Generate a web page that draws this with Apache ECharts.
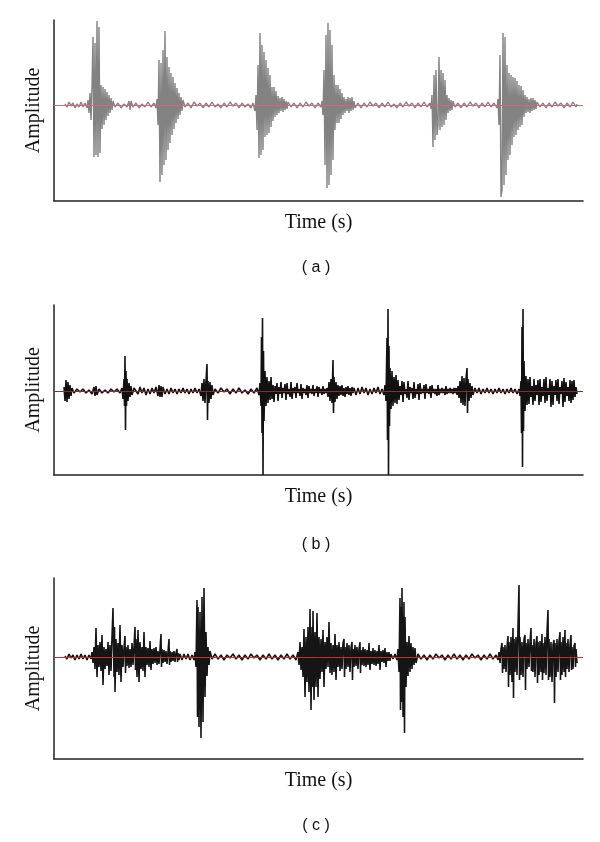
<!DOCTYPE html>
<html><head><meta charset="utf-8">
<script src="https://cdn.jsdelivr.net/npm/echarts@6/dist/echarts.min.js"></script>
<style>html,body{margin:0;padding:0;background:#fff}#c{width:600px;height:842px}</style>
</head><body><div id="c"></div>
<script>
// Time offsets (arbitrary units, 0..529 span of the axis) and amplitude readings (relative to baseline)
const waveA = [[11,1],[13,-2],[15,3],[17,-1],[19,2],[21,-3],[23,1],[25,-2],[27,3],[29,-2],[31,2],[33,-3],
[34,5],[35,-8],[36,12],[37,-15],[38,18],[39,68],[40,-52],[41,62],[42,-50],[43,84],[44,-52],[45,78],[46,-48],[47,20],[48,-24],[49,18],[50,-20],[51,16],[52,-15],[53,13],[54,-11],[55,10],[56,-8],[57,7],[58,-5],[59,4],
[61,-2],[64,2],[67,-3],[70,1],[73,-2],[75,4],[76,-5],[77,4],[79,-2],[82,2],[85,-3],[88,1],[91,-2],[94,3],[97,-2],[100,2],[102,-3],
[103,6],[104,-20],[105,45],[106,-77],[107,42],[108,-70],[109,55],[110,-60],[111,74],[112,-55],[113,48],[114,-45],[115,38],[116,-38],[117,32],[118,-30],[119,28],[120,-24],[121,22],[122,-18],[123,17],[124,-14],[125,12],[126,-10],[127,8],[128,-6],[129,5],
[131,-2],[134,2],[137,-3],[140,3],[143,-1],[146,2],[149,-3],[152,2],[155,-2],[158,3],[161,-2],[164,1],[167,-3],[170,2],[173,-2],[176,3],[179,-1],[182,2],[185,-3],[188,2],[191,-2],[194,1],[197,-3],[199,2],
[201,-6],[202,10],[203,-25],[204,40],[205,-53],[206,72],[207,-50],[208,60],[209,-45],[210,53],[211,-32],[212,45],[213,-30],[214,37],[215,-28],[216,30],[217,-22],[218,18],[219,-16],[220,18],[221,-12],[222,14],[223,-10],[224,9],[225,-8],[226,7],[227,-6],[228,8],[229,-7],[230,6],[231,-5],[232,4],[233,-4],[234,3],
[237,-2],[240,2],[243,-3],[246,2],[249,-2],[252,3],[255,-1],[258,2],[261,-3],[264,2],[267,-2],
[268,4],[269,-10],[270,35],[271,-60],[272,70],[273,-83],[274,82],[275,-80],[276,75],[277,-70],[278,60],[279,-55],[280,30],[281,-25],[282,20],[283,-18],[284,20],[285,-18],[286,16],[287,-14],[288,12],[289,-10],[290,8],[291,-8],[292,6],[293,-6],[294,8],[295,-8],[296,7],[297,-6],[298,8],[299,-5],[300,4],[301,-3],
[304,2],[307,-3],[310,2],[313,-2],[316,3],[319,-1],[322,2],[325,-3],[328,2],[331,-2],[334,3],[337,-2],[340,1],[343,-3],[346,2],[349,-2],[352,3],[355,-1],[358,2],[361,-3],[364,2],[367,-2],[370,3],[373,-2],[376,2],
[377,-4],[378,10],[379,-42],[380,30],[381,-35],[382,35],[383,-30],[384,-20],[385,48],[386,-25],[387,35],[388,-22],[389,32],[390,-20],[391,25],[392,-15],[393,10],[394,-8],[395,7],[396,-6],[397,5],[398,-5],[399,4],
[401,-2],[404,2],[407,-3],[410,2],[413,-2],[416,3],[419,-1],[422,2],[425,-3],[428,2],[431,-2],[434,3],[437,-2],[440,2],[443,-3],
[444,6],[445,-20],[446,50],[447,-92],[448,-85],[449,72],[450,-80],[451,68],[452,-70],[453,40],[454,-55],[455,32],[456,-50],[457,30],[458,-40],[459,28],[460,-32],[461,27],[462,-30],[463,24],[464,-25],[465,20],[466,-22],[467,19],[468,-20],[469,15],[470,-12],[471,10],[472,-8],[473,8],[474,-7],[475,6],[476,-8],[477,7],[478,-6],[479,7],[480,-5],[481,5],[482,-4],[483,3],
[486,-2],[489,2],[492,-3],[495,2],[498,-2],[501,3],[504,-1],[507,2],[510,-3],[513,2],[516,-2],[519,3],[522,-2],[523,1]];

const waveB = [[10,4],[11,-10],[12,11],[13,-11],[14,9],[15,-8],[16,6],[17,-5],[18,3],
[20,-2],[23,2],[26,-1],[29,2],[32,-2],[35,1],[38,-3],[40,4],[41,-5],[42,5],[43,-4],[45,2],[48,-2],[51,1],[54,-2],[57,2],[60,-1],[63,2],[66,-2],[68,3],
[69,-8],[70,12],[70.5,-15],[71,35],[71.5,-39],[72,20],[72.5,-15],[73,12],[74,-10],[75,8],[76,-6],[77,5],[78,-4],[80,3],
[82,3],[84,-3],[86,4],[88,-2],[90,3],[92,-4],[94,2],[96,-3],[98,3],[100,-2],[102,4],[104,-5],[105,6],[106,-6],[107,5],[108,-6],[109,4],[111,-3],[113,2],[115,-3],[117,3],[119,-2],[121,2],[123,-3],[125,2],[127,-2],[129,3],[131,-2],[133,2],[135,-3],[137,2],[139,-2],[141,3],[143,-2],[145,2],
[147,-5],[148,8],[149,-10],[150,12],[151,-12],[152,10],[153,27],[153.5,-29],[154,10],[155,-12],[156,9],[157,-8],[158,6],[159,-4],
[161,2],[164,-2],[167,3],[170,-1],[173,2],[176,-3],[179,2],[182,-2],[185,3],[188,-2],[191,1],[194,-3],[197,2],[200,-2],[203,3],
[205,-4],[206,8],[207,-15],[207.5,54],[208,-42],[208.5,73],[209,-84],[209.5,40],[210,-30],[211,20],[212,-15],[213,14],
[214,-12],[215,10],[216,-9],[217,14],[218,-8],[219,6],[220,-11],[221,5],[222,-3],[223,8],[224,-10],[225,4],[226,-3],[227,9],[228,-7],[229,3],[230,-2],[231,7],[232,-9],[233,8],[234,-3],[235,2],[236,-6],[237,9],[238,-8],[239,3],[240,-2],[241,4],[242,-7],[243,8],[244,-2],[245,2],[246,-5],[247,7],[248,-8],[249,3],[250,-2],[251,2],[252,-4],[253,6],[254,-7],[255,5],[256,-2],[257,2],[258,-3],[259,6],[260,-5],[261,2],[262,-2],[263,5],[264,-6],[265,4],[266,-2],[267,2],[268,-4],[269,5],[270,-3],[271,2],[272,-2],[273,3],
[274,-6],[275,9],[276,-10],[277,12],[278,-12],[279,31],[279.5,-22],[280,14],[281,-11],[282,9],[283,-8],[284,6],[285,-5],
[286,5],[287,-4],[288,6],[289,-5],[290,3],[291,-6],[292,4],[293,-3],[294,5],[295,-4],[296,3],[297,-5],[298,4],[299,-2],[300,3],[302,-4],[304,3],[306,-3],[308,4],[310,-2],[312,3],[314,-4],[316,2],[318,-3],[320,3],[322,-2],[324,4],[326,-3],[328,2],[330,-4],
[331,6],[332,-10],[333,53],[333.5,-49],[334,82],[334.5,-84],[335,45],[335.5,-35],[336,23],[337,-18],[338,20],[339,-15],
[340,14],[341,-12],[342,16],[343,-13],[344,11],[345,-9],[346,5],[347,-4],[348,10],[349,-11],[350,9],[351,-3],[352,2],[353,-7],[354,10],[355,-9],[356,4],[357,-2],[358,3],[359,-8],[360,9],[361,-7],[362,2],[363,-3],[364,7],[365,-9],[366,8],[367,-3],[368,2],[369,-2],[370,6],[371,-8],[372,7],[373,-2],[374,2],[375,-3],[376,5],[377,-7],[378,6],[379,-2],[380,2],[381,-3],[382,2],[383,-5],[384,6],[385,-4],[386,2],[387,-2],[388,3],[389,-2],[390,2],[391,-4],[392,5],[393,-3],[394,2],[395,-2],[396,3],[397,-2],[398,2],[399,-3],[400,3],[401,-2],[402,3],[403,-4],
[404,5],[405,-7],[406,10],[407,-12],[408,15],[409,-14],[410,13],[411,-15],[412,12],[413,23],[413.5,-22],[414,12],[415,-10],[416,8],[417,-7],[418,5],[419,-4],
[421,3],[423,-2],[425,3],[427,-3],[429,2],[431,-2],[433,3],[435,-2],[437,2],[439,-3],[441,2],[443,-2],[445,3],[447,-2],[449,2],[451,-3],[453,2],[455,-2],[457,3],[459,-2],[461,2],[463,-3],[465,2],
[466,-5],[467,10],[467.5,-42],[468,64],[468.5,-76],[469,82],[469.5,-40],[470,30],[471,-20],[472,15],
[473,-14],[474,12],[475,-13],[476,14],[477,-6],[478,5],[479,-14],[480,12],[481,-10],[482,6],[483,-4],[484,11],[485,-14],[486,12],[487,-11],[488,4],[489,-5],[490,12],[491,-12],[492,14],[493,-10],[494,3],[495,-4],[496,12],[497,-16],[498,10],[499,-14],[500,5],[501,-4],[502,11],[503,-10],[504,12],[505,-13],[506,4],[507,-3],[508,10],[509,-16],[510,13],[511,-11],[512,9],[513,-5],[514,4],[515,-10],[516,11],[517,-12],[518,10],[519,-9],[520,11],[521,-6],[522,4],[523,-3]];

const waveC = [[11,1],[13,-2],[15,3],[17,-1],[19,2],[21,-3],[23,2],[25,-2],[27,3],[29,-2],[31,2],[33,-3],[35,2],[37,-2],
[38,5],[39,-6],[40,10],[41,-12],[42,29],[43,-20],[44,12],[45,-10],[46,15],[47,-14],[48,22],[49,-28],[50,10],[51,-12],[52,8],[53,-9],[54,15],[55,-18],[56,12],[57,-14],[58,20],[59,49],[60,-20],[60.5,30],[61,-35],[62,18],[63,-15],[64,14],[65,-18],[66,32],[67,-25],[68,12],[69,-10],[70,9],[71,21],[71.5,-16],[72,10],[73,-9],[74,12],[75,-11],[76,8],[77,-10],[78,14],[79,-8],[80,10],[81,30],[81.5,-13],[82,18],[83,-20],[84,27],[85,-25],[86,15],[87,-12],[88,10],[89,-14],[90,25],[91,-20],[92,10],[93,-8],[94,9],[95,-10],[96,16],[97,-13],[98,8],[99,-7],[100,9],[101,-6],[102,10],[103,-8],[104,6],[105,-7],[106,8],[107,23],[107.5,-10],[108,8],[109,-6],[110,7],[111,-5],[112,6],[113,-7],[114,5],[115,18],[115.5,-8],[116,6],[117,-5],[118,5],[119,-4],[120,6],[121,-5],[122,4],[123,8],[123.5,-5],[124,4],[125,-3],[126,3],
[128,-3],[130,3],[132,-2],[134,3],[136,-3],[138,2],[140,-3],
[141,5],[142,-10],[143,57],[143.5,-60],[144,50],[145,-70],[146,45],[147,-81],[148,60],[149,-65],[150,69],[151,-40],[152,25],[153,-19],[154,10],[155,-8],[156,6],
[158,-2],[161,3],[164,-2],[167,2],[170,-3],[173,2],[176,-1],[179,3],[182,-2],[185,2],[188,-3],[191,2],[194,-2],[197,3],[200,-1],[203,2],[206,-3],[209,2],[212,-2],[215,3],[218,-2],[221,2],[224,-3],[227,2],[230,-2],[233,3],[236,-2],[239,2],[242,-3],
[244,5],[245,-8],[246,15],[247,-13],[248,10],[249,-20],[250,28],[251,-40],[252,20],[253,-25],[254,30],[255,-35],[256,48],[257,-53],[258,30],[258.5,-30],[259,46],[260,-43],[261,25],[262,-30],[263,44],[264,-40],[265,20],[266,-22],[267,18],[268,-15],[269,27],[270,-30],[271,15],[272,-12],[273,20],[274,-10],[275,35],[276,-16],[277,14],[278,-18],[279,12],[280,-15],[281,23],[282,-23],[283,12],[284,-10],[285,15],[286,-14],[287,10],[288,-12],[289,14],[290,18],[290.5,-20],[291,10],[292,-12],[293,14],[294,-10],[295,12],[296,-15],[297,9],[298,15],[298.5,-23],[299,8],[300,-10],[301,12],[302,-9],[303,10],[304,-12],[305,8],[306,15],[306.5,-16],[307,7],[308,-8],[309,10],[310,-9],[311,8],[312,-10],[313,7],[314,-8],[315,14],[316,-13],[317,6],[318,-7],[319,9],[320,-8],[321,7],[322,-9],[323,6],[324,-7],[325,12],[326,-13],[327,6],[328,-5],[329,7],[330,-6],[331,9],[332,-10],[333,5],[334,-4],[335,5],[336,-4],[337,3],
[339,-2],[341,3],[343,-3],
[344,8],[345,-15],[346,59],[346.5,-53],[347,50],[347.5,-45],[348,69],[349,-60],[350,55],[350.5,-76],[351,40],[352,-30],[353,15],[354,-19],[355,21],[356,-15],[357,14],[358,-12],[359,10],[360,-8],[361,9],[362,-6],
[364,3],[367,-2],[370,2],[373,-3],[376,2],[379,-2],[382,3],[385,-1],[388,2],[391,-3],[394,2],[397,-2],[400,3],[403,-2],[406,2],[409,-3],[412,2],[415,-2],[418,3],[421,-1],[424,2],[427,-3],[430,2],[433,-2],[436,3],[439,-2],[442,2],[444,-3],
[445,5],[446,-6],[447,8],[448,14],[448.5,-16],[449,10],[450,-12],[451,12],[452,-15],[453,10],[454,21],[454.5,-30],[455,15],[456,-18],[457,20],[458,-25],[459,29],[459.5,-41],[460,18],[461,-15],[462,20],[463,-18],[464,30],[465,72],[465.5,-23],[466,20],[467,-18],[468,15],[469,-20],[470,18],[471,22],[471.5,-33],[472,14],[473,-12],[474,18],[475,-10],[476,15],[477,29],[477.5,-14],[478,12],[479,-15],[480,18],[481,-20],[482,14],[483,21],[483.5,-26],[484,15],[485,-18],[486,16],[487,-15],[488,23],[488.5,-23],[489,14],[490,-16],[491,20],[492,-18],[493,25],[494,47],[494.5,-23],[495,18],[496,-20],[497,15],[498,-25],[499,12],[500,17],[500.5,-46],[501,14],[502,-20],[503,18],[504,-15],[505,16],[506,25],[506.5,-23],[507,15],[508,-18],[509,20],[510,-15],[511,27],[511.5,-20],[512,14],[513,-12],[514,18],[515,-15],[516,12],[517,22],[517.5,-13],[518,10],[519,-12],[520,11],[521,14],[521.5,-10],[522,8],[523,-6]];

const panelLabels = ['( a )', '( b )', '( c )'];
const xTitle = 'Time (s)';
const yTitle = 'Amplitude';
const yRanges = [[-96, 85], [-84, 86], [-102, 79]];

const grids = [
  {left: 54, width: 529, top: 20, height: 181},
  {left: 54, width: 529, top: 305, height: 170},
  {left: 54, width: 529, top: 578, height: 181}
];
const waves = [waveA, waveB, waveC];
const waveColors = ['#828282', '#111111', '#151515'];
const waveWidths = [1.4, 1.6, 1.6];
const baseColors = ['#d46a6a', '#8e2a2a', '#c23030'];
const labelY = [268, 545, 826];

const axisLine = {show: true, onZero: false, lineStyle: {color: '#222', width: 1.5}};
const chart = echarts.init(document.getElementById('c'), null, {renderer: 'canvas'});
chart.setOption({
  animation: false,
  backgroundColor: '#fff',
  grid: grids,
  xAxis: grids.map((g, i) => ({
    type: 'value', gridIndex: i, min: 0, max: 529,
    axisLine: axisLine, axisTick: {show: false}, axisLabel: {show: false}, splitLine: {show: false},
    name: xTitle, nameLocation: 'middle', nameGap: 12,
    nameTextStyle: {fontFamily: 'Liberation Serif', fontSize: 20, color: '#111', verticalAlign: 'top'}
  })),
  yAxis: grids.map((g, i) => ({
    type: 'value', gridIndex: i, min: yRanges[i][0], max: yRanges[i][1],
    axisLine: axisLine, axisTick: {show: false}, axisLabel: {show: false}, splitLine: {show: false},
    name: yTitle, nameLocation: 'middle', nameGap: 10,
    nameTextStyle: {fontFamily: 'Liberation Serif', fontSize: 20, color: '#111'}
  })),
  series: waves.map((w, i) => ({
    type: 'line', xAxisIndex: i, yAxisIndex: i, data: w,
    showSymbol: false, symbol: 'none', sampling: null,
    lineStyle: {color: waveColors[i], width: waveWidths[i]},
    z: 2,
    markLine: {
      silent: true, symbol: 'none', label: {show: false},
      lineStyle: {color: baseColors[i], width: 1, type: 'solid'},
      data: [{yAxis: 0}], z: 3
    }
  })),
  graphic: panelLabels.map((t, i) => ({
    type: 'text', x: 316, y: labelY[i],
    style: {text: t, fontFamily: 'Liberation Sans', fontSize: 16, fill: '#111', textAlign: 'center', textVerticalAlign: 'middle'}
  }))
});
</script></body></html>
